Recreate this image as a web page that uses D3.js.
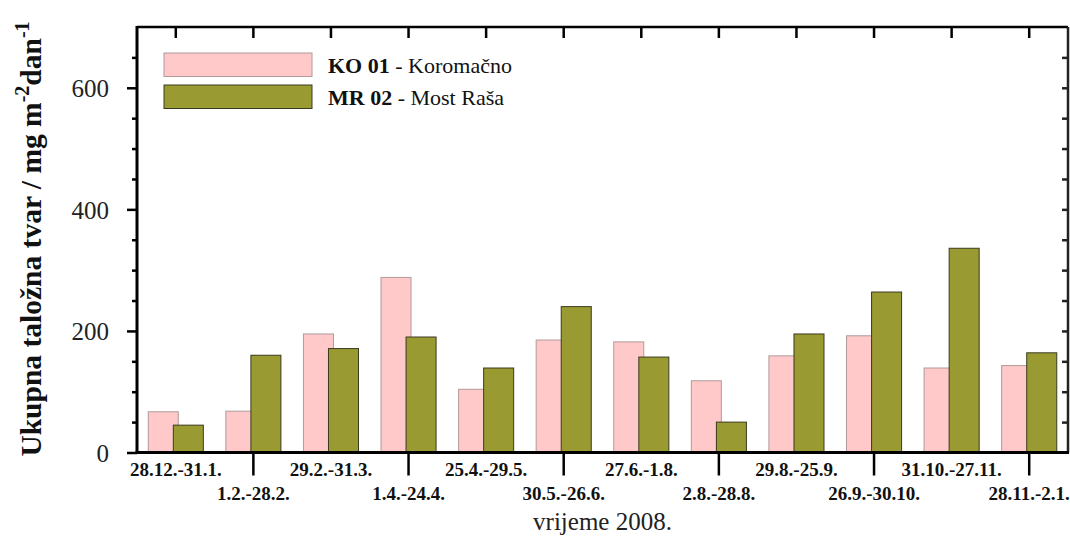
<!DOCTYPE html>
<html><head><meta charset="utf-8">
<script src="https://cdn.jsdelivr.net/npm/d3@7"></script>
<style>body{margin:0;background:#fff}svg{display:block}text{font-family:"Liberation Serif","Times New Roman",serif}</style>
</head><body>
<svg id="c" width="1070" height="537"></svg>
<script>
const categories = ["28.12.-31.1.","1.2.-28.2.","29.2.-31.3.","1.4.-24.4.","25.4.-29.5.","30.5.-26.6.","27.6.-1.8.","2.8.-28.8.","29.8.-25.9.","26.9.-30.10.","31.10.-27.11.","28.11.-2.1."];
const ko01 = [67,68,195,288,104,185,182,118,159,192,139,143];
const mr02 = [45,160,171,190,139,240,157,50,195,264,336,164];
const yTicks = [0,200,400,600];
const seriesNames = [{bold:"KO 01",rest:" - Koromačno"},{bold:"MR 02",rest:" - Most Raša"}];
const colors = ["#ffc9c9","#9a9a33"];
const strokes = ["#b09a9a","#3a3a20"];

const svg = d3.select("#c");
const L=137,R=1068,T=27,B=452.5;
const x = d3.scaleBand().domain(categories).range([L,R]).padding(0);
const y = d3.scaleLinear().domain([0,700]).range([B,T]);
const bw = x.bandwidth();
const barW = bw*0.387;
const offs = [-0.355*bw, -0.032*bw];
const cx = c => x(c)+bw/2;

// bars
[ko01,mr02].forEach((vals,si)=>{
  svg.append("g").selectAll("rect").data(vals).join("rect")
    .attr("x",(d,i)=>cx(categories[i])+offs[si])
    .attr("y",d=>y(d))
    .attr("width",barW)
    .attr("height",d=>B-y(d))
    .attr("fill",colors[si]).attr("stroke",strokes[si]).attr("stroke-width",1);
});

// left axis
const minor = d3.range(50,700,50).filter(v=>v%200!==0);
svg.append("g").attr("transform",`translate(${L},0)`)
  .call(d3.axisLeft(y).tickValues(minor).tickSize(5).tickFormat(""))
  .call(g=>{g.select(".domain").remove();g.selectAll("line").attr("stroke","#000").attr("stroke-width",2.5);});
const la = svg.append("g").attr("transform",`translate(${L},0)`)
  .call(d3.axisLeft(y).tickValues(yTicks).tickSize(10).tickPadding(18).tickSizeOuter(0));
la.select(".domain").remove();
la.selectAll("line").attr("stroke","#000").attr("stroke-width",2.5);
la.selectAll("text").attr("font-size",25).attr("font-family","Liberation Serif").attr("fill","#222").attr("dy","0.35em");

// right axis
const ra = svg.append("g").attr("transform",`translate(${R},0)`)
  .call(d3.axisLeft(y).tickValues(d3.range(50,700,50)).tickSize(6).tickFormat(""));
ra.select(".domain").remove();
ra.selectAll("line").attr("stroke","#222").attr("stroke-width",2.5);

// top axis ticks (inward)
const ta = svg.append("g").attr("transform",`translate(0,${T})`)
  .call(d3.axisBottom(x).tickSize(11).tickFormat(""));
ta.select(".domain").remove();
ta.selectAll("line").attr("stroke","#000").attr("stroke-width",2.5);

// bottom axis
const ba = svg.append("g").attr("transform",`translate(0,${B})`)
  .call(d3.axisBottom(x).tickSize(0).tickPadding(0));
ba.select(".domain").remove();
ba.selectAll(".tick line").filter((d,i)=>i%2===1).attr("y2",23).attr("stroke","#000").attr("stroke-width",2.5);
ba.selectAll(".tick text")
  .attr("font-size",19).attr("font-weight","bold").attr("font-family","Liberation Serif").attr("fill","#111")
  .attr("dy",null)
  .attr("y",(d,i)=>i%2===0?23.5:47.5);

// frame lines
svg.append("line").attr("x1",L).attr("x2",R).attr("y1",T).attr("y2",T).attr("stroke","#000").attr("stroke-width",2.5);
svg.append("line").attr("x1",R).attr("x2",R).attr("y1",T).attr("y2",B).attr("stroke","#222").attr("stroke-width",2.5);
svg.append("line").attr("x1",L).attr("x2",L).attr("y1",T-1).attr("y2",B+1.5).attr("stroke","#000").attr("stroke-width",3);
svg.append("line").attr("x1",L-1.5).attr("x2",R+1).attr("y1",B).attr("y2",B).attr("stroke","#000").attr("stroke-width",3);

// legend
const lg = svg.append("g");
seriesNames.forEach((s,i)=>{
  const yy = 53+i*32;
  lg.append("rect").attr("x",164).attr("y",yy).attr("width",148).attr("height",23.5)
    .attr("fill",colors[i]).attr("stroke",strokes[i]).attr("stroke-width",1);
  const t = lg.append("text").attr("x",328).attr("y",yy+19.5).attr("font-size",22).attr("fill","#111");
  t.append("tspan").attr("font-weight","bold").text(s.bold);
  t.append("tspan").text(s.rest);
});

// axis titles
svg.append("text").attr("x",(L+R)/2).attr("y",530).attr("text-anchor","middle")
  .attr("font-size",25).attr("fill","#222").text("vrijeme 2008.");
const yl = svg.append("text").attr("transform","translate(41,239) rotate(-90)")
  .attr("text-anchor","middle").attr("font-size",29.5).attr("font-weight","bold").attr("fill","#111");
yl.append("tspan").text("Ukupna taložna tvar / mg m");
yl.append("tspan").attr("dy",-12).attr("font-size",20).text("-2");
yl.append("tspan").attr("dy",12).text("dan");
yl.append("tspan").attr("dy",-12).attr("font-size",20).text("-1");
</script>
</body></html>
